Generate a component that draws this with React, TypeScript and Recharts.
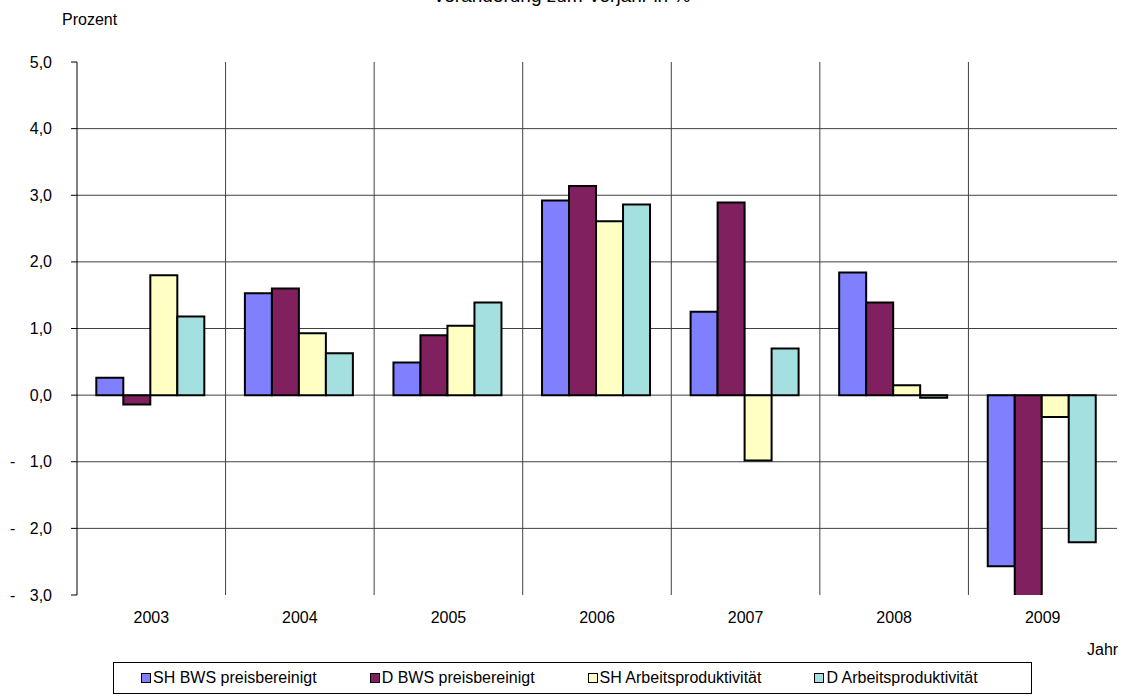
import React from 'react';
import { BarChart, Bar, XAxis, YAxis, CartesianGrid } from 'recharts';

const years = ['2003', '2004', '2005', '2006', '2007', '2008', '2009'];
const shBws = [0.26, 1.53, 0.49, 2.92, 1.25, 1.84, -2.57];
const dBws = [-0.14, 1.6, 0.9, 3.14, 2.89, 1.39, -5.0];
const shArb = [1.8, 0.93, 1.04, 2.61, -0.98, 0.15, -0.33];
const dArb = [1.18, 0.63, 1.39, 2.86, 0.7, -0.04, -2.21];

const yTicks = [-3, -2, -1, 0, 1, 2, 3, 4, 5];
const gridRows = [-2, -1, 0, 1, 2, 3, 4];

const seriesNames = ['SH BWS preisbereinigt', 'D BWS preisbereinigt', 'SH Arbeitsproduktivität', 'D Arbeitsproduktivität'];
const seriesKeys = ['shBws', 'dBws', 'shArb', 'dArb'];
const seriesColors = ['#8080FF', '#80205F', '#FFFFC4', '#A4E0E0'];

const data = years.map((year, i) => ({
  year,
  shBws: shBws[i],
  dBws: dBws[i],
  shArb: shArb[i],
  dArb: dArb[i],
}));

const font = '"Liberation Sans", Arial, sans-serif';

const YTick = (props: any) => {
  const { x, y, payload } = props;
  const v = payload.value as number;
  const txt = Math.abs(v).toFixed(1).replace('.', ',');
  return (
    <g>
      {v < 0 && (
        <text x={10} y={y} dy={5.5} fontSize={16} fontFamily={font} fill="#000">-</text>
      )}
      <text x={x} y={y} dy={5.5} textAnchor="end" fontSize={16} fontFamily={font} fill="#000">{txt}</text>
    </g>
  );
};

// grid lines between the year groups
const categoryBounds = ({ offset }: any) =>
  years.slice(1).map((_, i) => offset.left + (offset.width * (i + 1)) / years.length);

const LegendBox = () => (
  <div
    style={{
      position: 'absolute',
      left: 113,
      top: 662,
      width: 919,
      display: 'flex',
      alignItems: 'center',
      height: 32,
      border: '1px solid #000',
      paddingLeft: 27,
      boxSizing: 'border-box',
      fontFamily: font,
      fontSize: 16,
      color: '#000',
      background: '#fff',
      whiteSpace: 'nowrap',
      overflow: 'hidden',
    }}
  >
    {seriesNames.map((name, i) => (
      <div key={name} style={{ display: 'flex', alignItems: 'center', flexShrink: 0, marginRight: i < 3 ? 53 : 0 }}>
        <span
          style={{
            display: 'inline-block',
            width: 8,
            height: 8,
            border: '1.5px solid #000',
            background: seriesColors[i],
            marginRight: 2,
          }}
        />
        <span>{name}</span>
      </div>
    ))}
  </div>
);

export default function App() {
  return (
    <div style={{ position: 'absolute', left: 0, top: 0, width: 1123, height: 697, background: '#fff', overflow: 'hidden', fontFamily: font }}>
      <div style={{ position: 'absolute', left: 0, width: 1123, top: -15, textAlign: 'center', fontSize: 19, color: '#000' }}>
        Veränderung zum Vorjahr in %
      </div>
      <div style={{ position: 'absolute', left: 62, top: 11, fontSize: 16, color: '#000' }}>Prozent</div>
      <div style={{ position: 'absolute', left: 1087, top: 641, fontSize: 16, color: '#000' }}>Jahr</div>
      <BarChart
        width={1123}
        height={697}
        data={data}
        margin={{ top: 62, right: 6, left: 0, bottom: 72 }}
        barCategoryGap="13%"
        barGap={0}
      >
        <CartesianGrid
          stroke="#404040"
          strokeWidth={1}
          horizontalValues={gridRows}
          verticalCoordinatesGenerator={categoryBounds}
        />
        <XAxis
          dataKey="year"
          axisLine={false}
          tickLine={false}
          tickSize={0}
          tickMargin={17}
          height={30}
          tick={{ fontSize: 16, fill: '#000', fontFamily: font }}
        />
        <YAxis
          width={77}
          domain={[-3, 5]}
          ticks={yTicks}
          interval={0}
          allowDataOverflow
          axisLine={{ stroke: '#000', strokeWidth: 1 }}
          tickLine={{ stroke: '#000', strokeWidth: 1 }}
          tickSize={6}
          tickMargin={19}
          tick={<YTick />}
        />
        {seriesKeys.map((k, i) => (
          <Bar
            key={k}
            dataKey={k}
            name={seriesNames[i]}
            fill={seriesColors[i]}
            stroke="#000"
            strokeWidth={2}
            isAnimationActive={false}
          />
        ))}
      </BarChart>
      <LegendBox />
    </div>
  );
}
